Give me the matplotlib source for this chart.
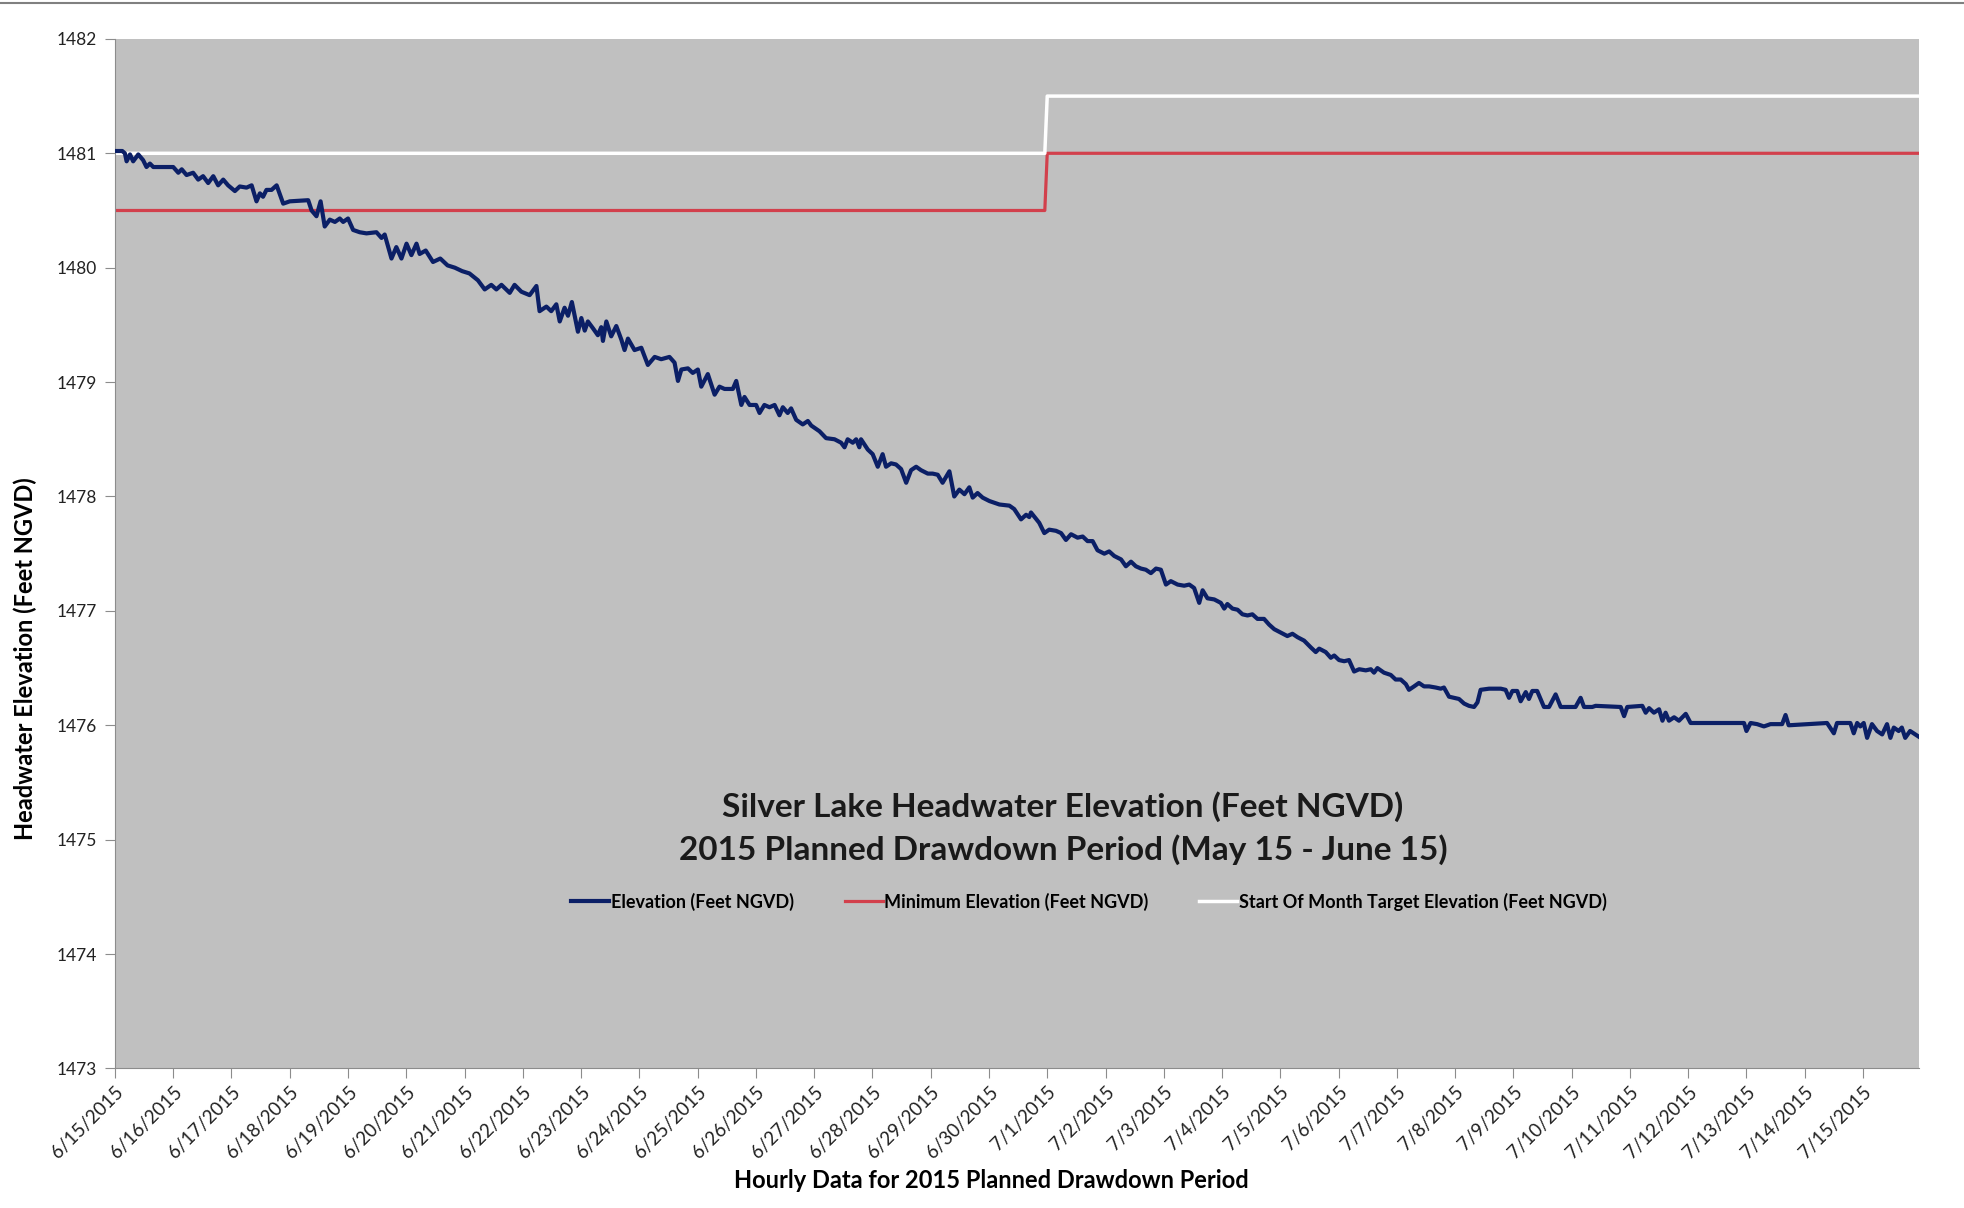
import pandas as pd
import matplotlib.pyplot as plt
import matplotlib.dates as mdates
from matplotlib.lines import Line2D

plt.rcParams['font.family'] = ['Lato', 'DejaVu Sans']

# hours since 6/15/2015 00:00 and headwater elevation (feet NGVD)
hours = [
    0, 3, 4.1, 4.8, 6.2, 7.5, 9.6, 11.6, 13.0, 14.4, 15.8, 24.0, 26.1, 27.5, 29.5,
    32.2, 34.3, 36.3, 38.4, 40.5, 42.5, 44.6, 46.6, 49.4, 51.4, 54.2, 56.3, 58.3,
    59.7, 61.0, 62.4, 64.5, 66.6, 69.3, 72.0, 79.6, 81.0, 83.0, 84.7, 86.4, 88.5,
    90.6, 92.6, 94.0, 96.0, 98.1, 100.8, 103.6, 107.7, 109.8, 111.1, 113.9, 115.9,
    118.0, 120.1, 122.1, 124.2, 125.5, 128, 131, 134, 137, 140, 143, 146,
    149.5, 152.3, 155.0, 157.1, 159.2, 162.6, 164.6, 167.4, 170.8, 173.6, 174.9,
    177.7, 179.7, 181.8, 183.2, 185.2, 186.6, 188.2, 190.7, 192.1, 193.5, 194.8,
    196.9, 198.9, 200.3, 201.0, 202.4, 204.4, 206.5, 208.6, 209.9, 211.3, 214.0,
    216.8, 219.5, 222.3, 225.0, 228.4, 230.5, 231.9, 233.3, 236.0, 238.0, 240.1,
    241.5, 244.2, 247.0, 249.0, 251.1,
    254.5, 255.9, 258.0, 259.3, 261.4, 264.1, 265.5, 267.5, 269.6, 271.7, 273.7,
    275.1, 277.1, 278.5, 280.6, 283.3, 285.4, 286.8, 290.2, 292.9, 296.4, 299.1,
    300.5, 301.8, 303.9, 305.3, 306.6, 307.3, 310.1, 312.1, 314.2, 316.2, 317.6,
    319.7, 321.7, 323.8, 325.9, 327.9, 330.0, 332.0, 334.8, 336.8, 338.9, 340.9,
    343.7, 345.7, 347.8, 349.9, 351.9, 353.3, 355.3, 357.4, 360.2, 364.3, 368.4,
    370.4, 373.2, 375.3, 376.6,
    377.3, 380.7, 382.8, 384.8, 387.6, 389.7, 391.7, 393.8, 396.5, 398.6, 400.6,
    402.7, 404.7, 407.5, 409.5, 411.6, 414.4, 416.4, 418.5, 420.5, 422.6, 424.6,
    426.7, 428.8, 430.8, 432.9, 434.9, 437.7, 440.4, 442.5, 444.5, 446.6, 448.0,
    450.0, 452.8, 455.5, 456.9, 458.2, 460.3, 462.4, 464.4, 466.5, 468.5, 470.6,
    473.3, 475.4, 477.5, 480.2, 482.9, 485.0, 487.1, 489.8, 492.6, 494.6, 496.0,
    498.7, 500.8,
    502.2, 504.2, 506.3, 508.3, 510.4, 512.5, 515.2, 517.3, 518.6, 520.0, 522.7,
    525.5, 527.5, 529.6, 531.7, 533.0, 535.1, 537.1, 539.2, 541.3, 544.0, 546.1,
    547.4, 549.5, 551.5, 553.6, 555.7, 557.7, 559.8, 561.2, 562.5, 566.0, 570.8,
    572.8, 574.2, 575.6, 577.6, 579.0, 581.1, 582.4, 583.8, 585.8, 588.6, 590.7,
    593.4, 595.5, 601.6, 603.7, 605.1, 608.5, 609.9, 620.2, 621.6, 622.9,
    629.1, 630.5, 631.9, 633.9, 636.0, 637.4, 638.7, 640.1, 642.2, 644.2, 647.0,
    649.0, 671.0, 672.0, 673.7, 676.4, 679.2, 681.9, 686.7, 688.1, 689.4, 705.2,
    708.0, 709.3, 714.8, 716.2, 717.6, 718.9, 720.3, 721.7, 723.7, 725.8, 727.9,
    729.9, 731.3, 732.7, 734.7, 736.0, 737.4, 739.4, 743,
]
elevation = [
    1481.02, 1481.02, 1481.00, 1480.93, 1480.99, 1480.93, 1480.99, 1480.94, 1480.88,
    1480.91, 1480.88, 1480.88, 1480.83, 1480.86, 1480.81, 1480.83, 1480.77, 1480.80,
    1480.74, 1480.80, 1480.72, 1480.77, 1480.72, 1480.67, 1480.71, 1480.70, 1480.72,
    1480.58, 1480.65, 1480.62, 1480.68, 1480.68, 1480.72, 1480.56, 1480.58, 1480.59,
    1480.50, 1480.45, 1480.58, 1480.36, 1480.42, 1480.40, 1480.43, 1480.40, 1480.43,
    1480.33, 1480.31, 1480.30, 1480.31, 1480.26, 1480.29, 1480.08, 1480.18, 1480.08,
    1480.21, 1480.11, 1480.21, 1480.12, 1480.15, 1480.05, 1480.08, 1480.02, 1480.00,
    1479.97, 1479.95,
    1479.89, 1479.81, 1479.85, 1479.81, 1479.85, 1479.78, 1479.85, 1479.79, 1479.76,
    1479.84, 1479.62, 1479.66, 1479.62, 1479.68, 1479.53, 1479.65, 1479.58, 1479.70,
    1479.44, 1479.56, 1479.45, 1479.53, 1479.47, 1479.41, 1479.48, 1479.36, 1479.53,
    1479.40, 1479.49, 1479.37, 1479.28, 1479.38, 1479.28, 1479.30, 1479.15, 1479.22,
    1479.20, 1479.22, 1479.17, 1479.01, 1479.11, 1479.12, 1479.08, 1479.11, 1478.96,
    1479.07, 1478.89, 1478.96, 1478.94,
    1478.94, 1479.01, 1478.80, 1478.87, 1478.80, 1478.80, 1478.73, 1478.80, 1478.78,
    1478.80, 1478.71, 1478.78, 1478.73, 1478.77, 1478.67, 1478.63, 1478.66, 1478.62,
    1478.57, 1478.51, 1478.50, 1478.47, 1478.43, 1478.50, 1478.47, 1478.50, 1478.43,
    1478.50, 1478.41, 1478.37, 1478.26, 1478.37, 1478.26, 1478.29, 1478.28, 1478.24,
    1478.12, 1478.23, 1478.26, 1478.23, 1478.20, 1478.20, 1478.19, 1478.12, 1478.22,
    1478.00, 1478.06, 1478.02, 1478.08, 1477.99, 1478.03, 1477.99, 1477.96, 1477.93,
    1477.92, 1477.89, 1477.80, 1477.84, 1477.82,
    1477.86, 1477.77, 1477.68, 1477.71, 1477.70, 1477.68, 1477.62, 1477.67, 1477.64,
    1477.65, 1477.61, 1477.61, 1477.53, 1477.50, 1477.52, 1477.48, 1477.45, 1477.39,
    1477.43, 1477.39, 1477.37, 1477.36, 1477.33, 1477.37, 1477.36, 1477.23, 1477.26,
    1477.23, 1477.22, 1477.23, 1477.20, 1477.07, 1477.18, 1477.11, 1477.10, 1477.07,
    1477.02, 1477.06, 1477.02, 1477.01, 1476.97, 1476.96, 1476.97, 1476.93, 1476.93,
    1476.88, 1476.84, 1476.81, 1476.78, 1476.80, 1476.77, 1476.74, 1476.68, 1476.64,
    1476.67, 1476.64, 1476.59,
    1476.61, 1476.57, 1476.56, 1476.57, 1476.47, 1476.49, 1476.48, 1476.49, 1476.46,
    1476.50, 1476.46, 1476.44, 1476.40, 1476.40, 1476.36, 1476.31, 1476.34, 1476.37,
    1476.34, 1476.34, 1476.33, 1476.32, 1476.33, 1476.25, 1476.24, 1476.23, 1476.19,
    1476.17, 1476.16, 1476.20, 1476.31, 1476.32, 1476.32, 1476.31, 1476.24, 1476.30,
    1476.30, 1476.21, 1476.29, 1476.23, 1476.30, 1476.30, 1476.16, 1476.16, 1476.27,
    1476.16, 1476.16, 1476.24, 1476.16, 1476.16, 1476.17, 1476.16, 1476.08, 1476.16,
    1476.17, 1476.11, 1476.15, 1476.11, 1476.14, 1476.04, 1476.11, 1476.04, 1476.07,
    1476.04, 1476.10, 1476.02, 1476.02, 1475.95, 1476.02, 1476.01, 1475.99, 1476.01,
    1476.01, 1476.09, 1476.00, 1476.02, 1475.93, 1476.02, 1476.02, 1475.93, 1476.02,
    1475.99, 1476.02, 1475.89, 1476.01, 1475.95, 1475.92, 1476.01, 1475.89, 1475.98,
    1475.95, 1475.98, 1475.89, 1475.95, 1475.90,
]

# step lines (June / July)
limit_hours = [0, 383, 384, 743]
minimum_elev = [1480.5, 1480.5, 1481.0, 1481.0]
target_elev = [1481.0, 1481.0, 1481.5, 1481.5]

start = pd.Timestamp('2015-06-15 00:00')
t_elev = start + pd.to_timedelta(hours, unit='h')
t_lim = start + pd.to_timedelta(limit_hours, unit='h')

fig = plt.figure(figsize=(19.65, 12.08), dpi=100)
ax = fig.add_axes([0.0585, 0.1155, 0.918, 0.8523])
ax.set_facecolor('#c0c0c0')

ax.plot(t_elev, elevation, color='#0b1f66', lw=3.0, label='Elevation (Feet NGVD)', zorder=3)
ax.plot(t_lim, minimum_elev, color='#d2404c', lw=2.3, label='Minimum Elevation (Feet NGVD)', zorder=2)
ax.plot(t_lim, target_elev, color='white', lw=2.5, label='Start Of Month Target Elevation (Feet NGVD)', zorder=2)

ax.set_ylim(1473, 1482)
ax.set_yticks(range(1473, 1483))
ax.set_xlim(start, start + pd.Timedelta(hours=743))
ax.xaxis.set_major_locator(mdates.DayLocator())
ax.xaxis.set_major_formatter(plt.FuncFormatter(
    lambda v, p: (lambda d: f'{d.month}/{d.day}/{d.year}')(mdates.num2date(v))))

for s in ['top', 'right']:
    ax.spines[s].set_visible(False)
for s in ['left', 'bottom']:
    ax.spines[s].set_color('#8c8c8c')
ax.tick_params(axis='both', direction='out', length=7, color='#8c8c8c', labelcolor='#222222')
ax.tick_params(axis='x', labelsize=13.5)
ax.tick_params(axis='y', labelsize=12.5, pad=6)
plt.setp(ax.get_xticklabels(), rotation=45, ha='right', rotation_mode='anchor')

ax.set_ylabel('Headwater Elevation (Feet NGVD)', fontsize=17, fontweight='bold')
ax.set_xlabel('Hourly Data for 2015 Planned Drawdown Period', fontsize=17, fontweight='bold')
ax.yaxis.set_label_coords(-0.043, 0.398)
ax.xaxis.set_label_coords(0.486, -0.098)

ax.text(0.5255, 0.2335, 'Silver Lake Headwater Elevation (Feet NGVD)\n2015 Planned Drawdown Period (May 15 - June 15)',
        transform=ax.transAxes, ha='center', va='center', fontsize=24, fontweight='bold',
        color='#1a1a1a', linespacing=1.45)

ax.legend(loc='center', bbox_to_anchor=(0.54, 0.162), ncol=3, frameon=False,
          prop={'size': 13, 'weight': 'bold'}, handlelength=2.1, handletextpad=0.1, columnspacing=2.8)

fig.add_artist(Line2D([0, 1], [0.9975, 0.9975], color='#808080', lw=1.5))

fig.savefig('out.png', dpi=100)
